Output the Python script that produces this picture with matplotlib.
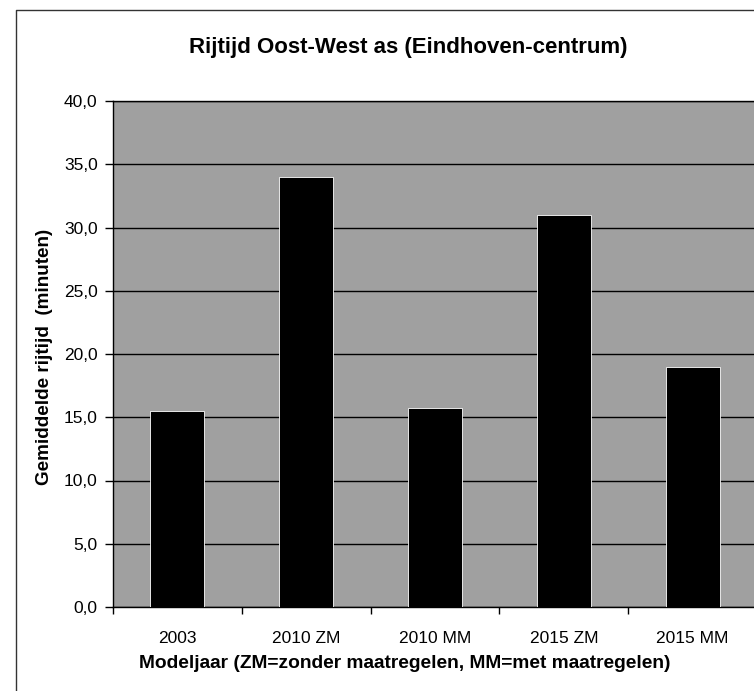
import matplotlib.pyplot as plt
import numpy as np
from matplotlib import rcParams
from matplotlib.lines import Line2D
from matplotlib.ticker import FuncFormatter, FixedLocator

rcParams['font.family'] = 'sans-serif'
rcParams['font.sans-serif'] = ['Liberation Sans', 'DejaVu Sans']

# Average travel time per model year
categories = ['2003', '2010 ZM', '2010 MM', '2015 ZM', '2015 MM']
rijtijd = [15.5, 34.0, 15.7, 31.0, 19.0]
y_ticks = [0, 5, 10, 15, 20, 25, 30, 35, 40]

fig = plt.figure(figsize=(7.54, 6.91), dpi=100)

# chart border (only top and left edge are in view)
fig.add_artist(Line2D([16 / 754, 16 / 754, 1.0], [0.0, 1 - 10 / 691, 1 - 10 / 691],
                      color='#333333', lw=1.0))

ax = fig.add_axes([113 / 754, 84 / 691, 644 / 754, 506 / 691])
ax.set_facecolor('#a0a0a0')

x = np.arange(len(categories))
ax.bar(x, rijtijd, width=0.42, color='black', edgecolor='white', linewidth=0.6, zorder=3)

ax.set_xlim(-0.5, len(categories) - 0.5)
ax.set_ylim(0, 40)
ax.yaxis.set_major_locator(FixedLocator(y_ticks))
ax.yaxis.set_major_formatter(FuncFormatter(lambda v, p: f'{v:.1f}'.replace('.', ',')))
ax.grid(axis='y', color='black', lw=1.0, zorder=1)
ax.set_axisbelow(True)

ax.set_xticks(x)
ax.set_xticklabels(categories)
ax.set_xticks(np.arange(-0.5, len(categories)), minor=True)
ax.tick_params(axis='x', which='major', length=0, pad=17, labelsize=12.5)
ax.tick_params(axis='x', which='minor', length=5, width=1, color='black', direction='out')
ax.tick_params(axis='y', length=6, width=1, color='black', direction='out', pad=5, labelsize=12.5)

for side in ['left', 'bottom', 'top', 'right']:
    ax.spines[side].set_color('black')
    ax.spines[side].set_linewidth(1.0)

ax.set_xlabel('Modeljaar (ZM=zonder maatregelen, MM=met maatregelen)',
              fontsize=13.8, fontweight='bold')
ax.xaxis.set_label_coords((405 - 113) / 644, -(655 - 607) / 506)
ax.set_ylabel('Gemiddelde rijtijd  (minuten)', fontsize=13.6, fontweight='bold')
ax.yaxis.set_label_coords(-(113 - 53) / 644, (607 - 357) / 506)

fig.text(408 / 754, 1 - 47 / 691, 'Rijtijd Oost-West as (Eindhoven-centrum)',
         ha='center', va='center', fontsize=16, fontweight='bold')

plt.savefig('out.png', dpi=100)
plt.close()
